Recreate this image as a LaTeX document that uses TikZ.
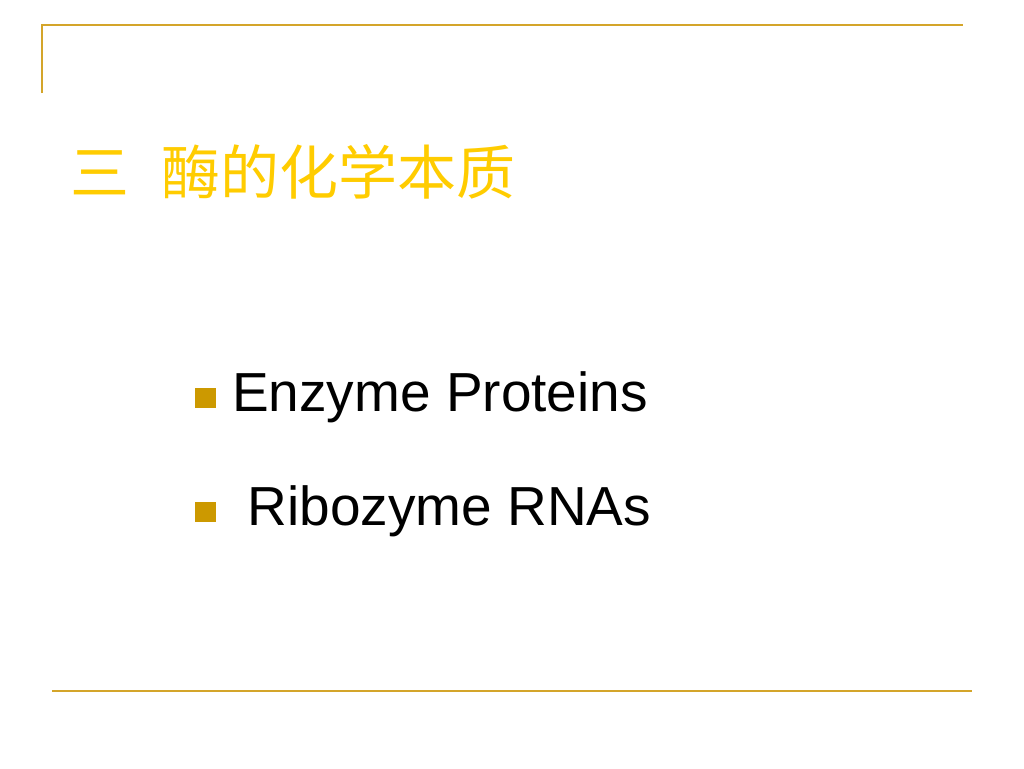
\documentclass[tikz,border=0pt]{standalone}
\usepackage{fontspec}
\setmainfont{Liberation Sans}
\newfontfamily\cjk{Noto Sans CJK SC}
\definecolor{rule}{HTML}{D4A52A}
\definecolor{titlegold}{HTML}{FFCC00}
\definecolor{bulletgold}{HTML}{CC9900}
\begin{document}
\begin{tikzpicture}[x=1pt, y=-1pt, line cap=butt,
  itemtext/.style={anchor=base west, inner sep=0pt, font=\fontsize{55}{66}\selectfont},
  bulletbox/.style={fill=bulletgold, minimum width=21pt, minimum height=20pt, inner sep=0pt}]
\def\W{1024} \def\H{768}
\useasboundingbox[fill=white] (0,0) rectangle (\W,\H);
% frame lines
\draw[rule, line width=2.2pt] (42,93)--(42,25)--(963,25);
\draw[rule, line width=2.6pt] (52,691)--(972,691);
% title
\node (title) at (70,194) [anchor=base west, inner sep=0pt, text=titlegold,
  font=\cjk\fontsize{59}{70}\selectfont]{三\hspace{0.55em}酶的化学本质};
% items
\node (bulletA) at (205,398) [bulletbox]{};
\node (itemA) at (232,411) [itemtext]{Enzyme Proteins};
\node (bulletB) at (205,512) [bulletbox]{};
\node (itemB) at (247.5,525) [itemtext]{Ribozyme RNAs};
\end{tikzpicture}
\end{document}
